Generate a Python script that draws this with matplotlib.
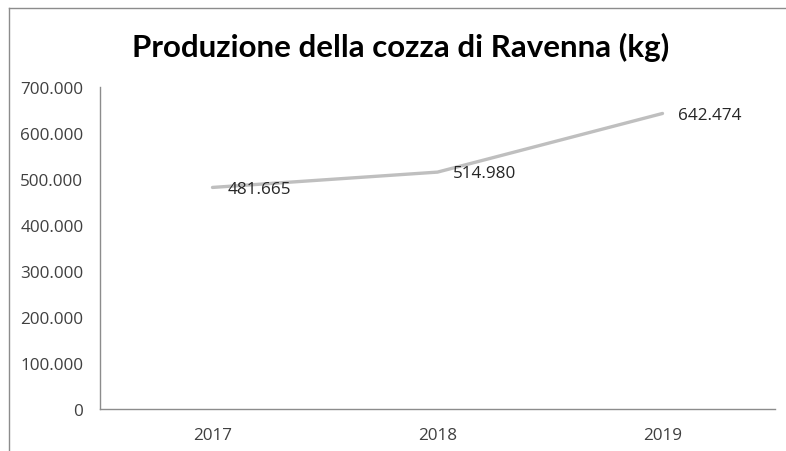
import matplotlib
matplotlib.use("Agg")
import matplotlib.pyplot as plt
from matplotlib.ticker import FuncFormatter, MultipleLocator
from matplotlib.lines import Line2D

years = ["2017", "2018", "2019"]
production = [481665, 514980, 642474]
title = "Produzione della cozza di Ravenna (kg)"

def it_fmt(v, pos=None):
    v = int(round(v))
    return f"{v:,}".replace(",", ".")

W, H = 786, 452
fig = plt.figure(figsize=(W / 100, H / 100), dpi=100)
ax = fig.add_axes([100 / W, (H - 410) / H, 675 / W, 322 / H])

x = list(range(len(years)))
ax.plot(x, production, color="#BFBFBF", lw=2.4, solid_capstyle="round", zorder=3)
for xi, v in zip(x, production):
    ax.annotate(it_fmt(v), (xi, v), xytext=(11, -1), textcoords="offset points",
                ha="left", va="center", fontsize=12.3, color="#262626",
                family="Open Sans", zorder=4)

ax.set_xlim(-0.5, 2.5)
ax.set_ylim(0, 700000)
ax.yaxis.set_major_locator(MultipleLocator(100000))
ax.yaxis.set_major_formatter(FuncFormatter(it_fmt))
ax.set_xticks(x)
ax.set_xticklabels(years)
ax.tick_params(axis="both", length=0, labelsize=12.3, labelcolor="#404040")
ax.tick_params(axis="y", pad=12)
ax.tick_params(axis="x", pad=13)
for lab in ax.get_xticklabels() + ax.get_yticklabels():
    lab.set_family("Open Sans")
for s in ["top", "right"]:
    ax.spines[s].set_visible(False)
for s in ["left", "bottom"]:
    ax.spines[s].set_color("#8C8C8C")
    ax.spines[s].set_linewidth(1.0)

fig.text(401 / W, (H - 47) / H, title, ha="center", va="center",
         fontsize=22.5, fontweight="bold", family="Lato", color="#000000")

# chart-area border (top and left edges visible)
fig.add_artist(Line2D([9 / W, 1.0], [(H - 9) / H, (H - 9) / H], transform=fig.transFigure,
                      color="#8C8C8C", lw=1.0))
fig.add_artist(Line2D([9 / W, 9 / W], [0, (H - 9) / H], transform=fig.transFigure,
                      color="#8C8C8C", lw=1.0))

fig.savefig("out.png", dpi=100, facecolor="white")
